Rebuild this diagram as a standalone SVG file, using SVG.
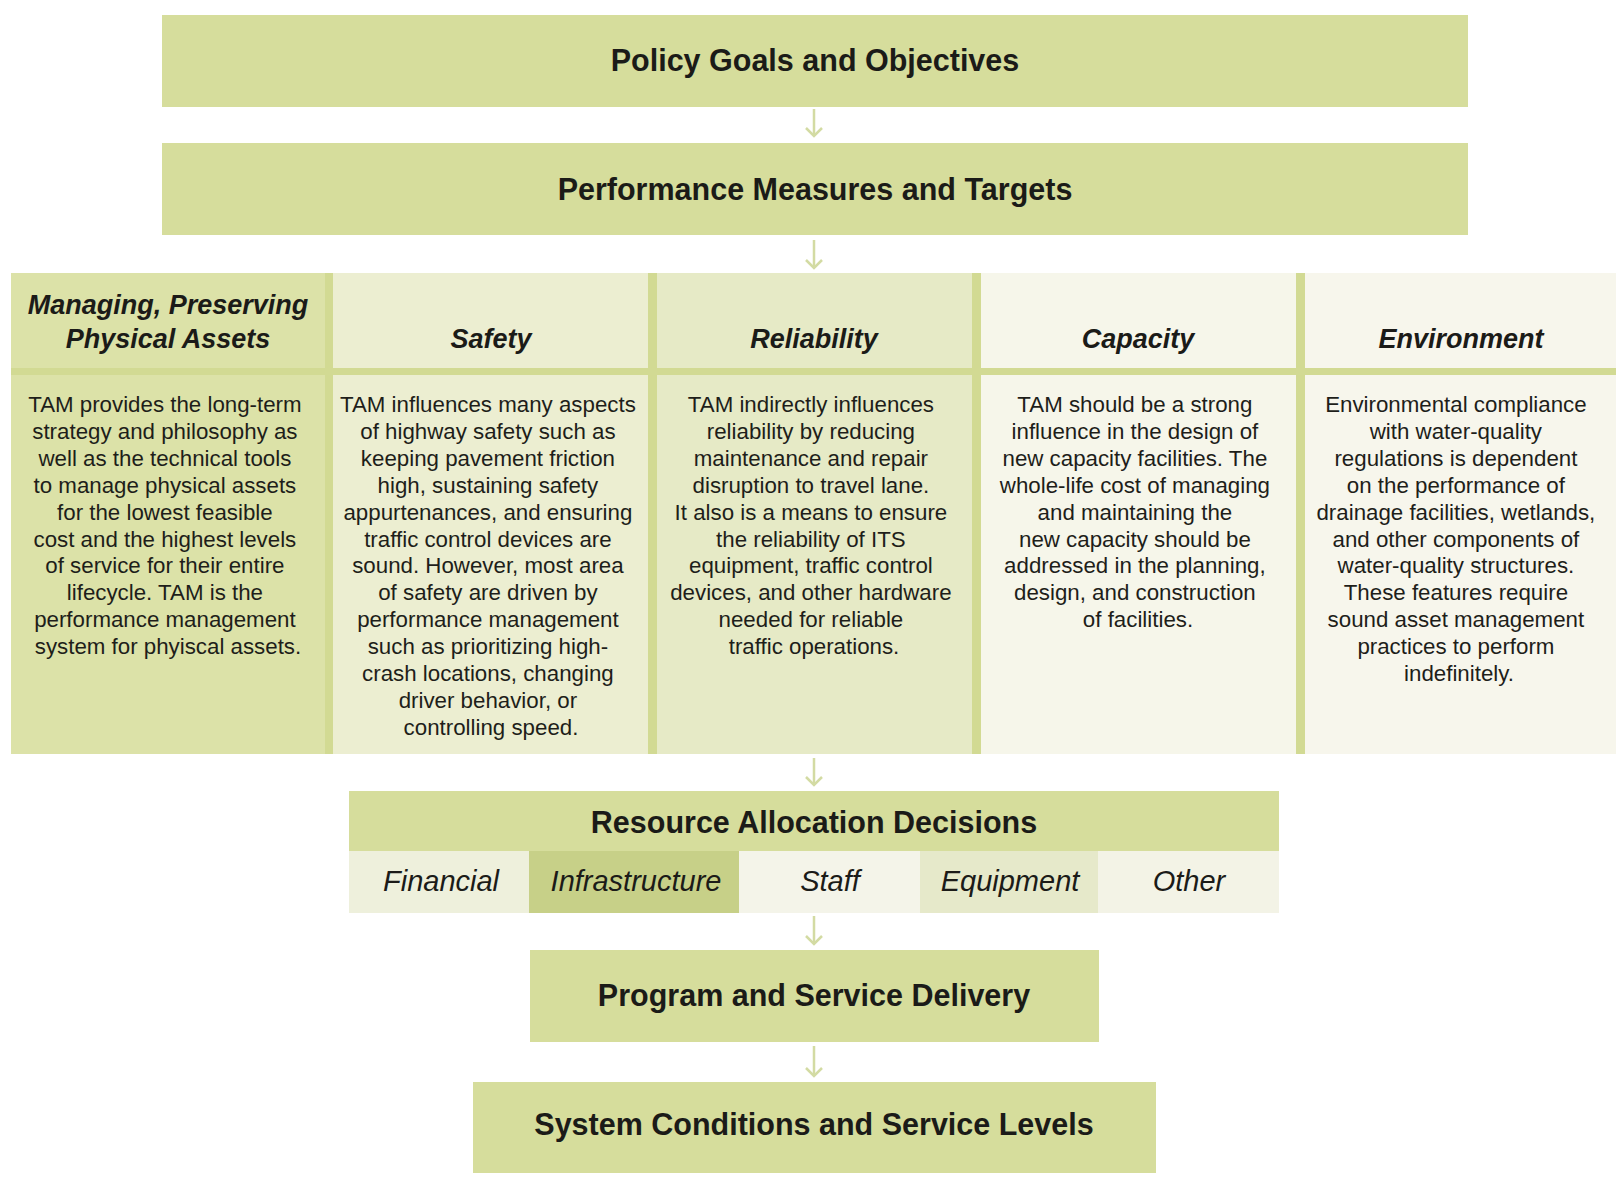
<svg xmlns="http://www.w3.org/2000/svg" width="1616" height="1177" viewBox="0 0 1616 1177">
<defs>
<style>
.box{fill:#d6dd9c}
.title{font-family:"Liberation Sans",Arial,sans-serif;font-weight:bold;font-size:30.5px;fill:#1b1b18;text-anchor:middle}
.head{font-family:"Liberation Sans",Arial,sans-serif;font-weight:bold;font-style:italic;font-size:27px;fill:#1b1b18;text-anchor:middle}
.body{font-family:"Liberation Sans",Arial,sans-serif;font-size:22.3px;fill:#1e1e1a;text-anchor:middle}
.sub{font-family:"Liberation Sans",Arial,sans-serif;font-style:italic;font-size:29px;fill:#1b1b18;text-anchor:middle}
.sep{fill:#d2da93}
.arrow{stroke:#d3dba3;stroke-width:2.5;fill:none}
</style>
<marker id="ah" markerWidth="12" markerHeight="18" refX="10" refY="9" orient="auto" markerUnits="userSpaceOnUse" viewBox="0 0 12 18">
<path d="M2,1 L10,9 L2,17" fill="none" stroke="#d3dba3" stroke-width="2.5"/>
</marker>
</defs>
<rect x="0" y="0" width="1616" height="1177" fill="#ffffff"/>

<g id="connectors">
<line class="arrow" x1="814" y1="109" x2="814" y2="136" marker-end="url(#ah)"/>
<line class="arrow" x1="814" y1="240" x2="814" y2="268" marker-end="url(#ah)"/>
<line class="arrow" x1="814" y1="758" x2="814" y2="785" marker-end="url(#ah)"/>
<line class="arrow" x1="814" y1="916" x2="814" y2="944" marker-end="url(#ah)"/>
<line class="arrow" x1="814" y1="1046" x2="814" y2="1076" marker-end="url(#ah)"/>
</g>

<g id="policy">
<rect class="box" x="162" y="15" width="1306" height="92"/>
<text class="title" x="815" y="71">Policy Goals and Objectives</text>
</g>

<g id="performance">
<rect class="box" x="162" y="143" width="1306" height="92"/>
<text class="title" x="815" y="200">Performance Measures and Targets</text>
</g>

<g id="table-bg">
<rect x="11" y="273" width="318" height="481" fill="#dce2a8"/>
<rect x="329" y="273" width="323" height="481" fill="#eceed1"/>
<rect x="652" y="273" width="324" height="481" fill="#e6eac6"/>
<rect x="976" y="273" width="324" height="481" fill="#f6f6ea"/>
<rect x="1300" y="273" width="316" height="481" fill="#f7f6ec"/>
<rect class="sep" x="11" y="368" width="1605" height="7"/>
<rect class="sep" x="325" y="273" width="8" height="481"/>
<rect class="sep" x="648" y="273" width="9" height="481"/>
<rect class="sep" x="972" y="273" width="9" height="481"/>
<rect class="sep" x="1296" y="273" width="9" height="481"/>
</g>

<g id="col-assets">
<text class="head" x="168" y="314">Managing, Preserving</text>
<text class="head" x="168" y="348">Physical Assets</text>
<text class="body" x="168" y="412">
<tspan x="168">TAM provides the long-term</tspan>
<tspan x="168" dy="26.9">strategy and philosophy as</tspan>
<tspan x="168" dy="26.9">well as the technical tools</tspan>
<tspan x="168" dy="26.9">to manage physical assets</tspan>
<tspan x="168" dy="26.9">for the lowest feasible</tspan>
<tspan x="168" dy="26.9">cost and the highest levels</tspan>
<tspan x="168" dy="26.9">of service for their entire</tspan>
<tspan x="168" dy="26.9">lifecycle. TAM is the</tspan>
<tspan x="168" dy="26.9">performance management</tspan>
<tspan x="168" dy="26.9">system for phyiscal assets.</tspan>
</text>
</g>

<g id="col-safety">
<text class="head" x="491" y="348">Safety</text>
<text class="body" x="491" y="412">
<tspan x="491">TAM influences many aspects</tspan>
<tspan x="491" dy="26.9">of highway safety such as</tspan>
<tspan x="491" dy="26.9">keeping pavement friction</tspan>
<tspan x="491" dy="26.9">high, sustaining safety</tspan>
<tspan x="491" dy="26.9">appurtenances, and ensuring</tspan>
<tspan x="491" dy="26.9">traffic control devices are</tspan>
<tspan x="491" dy="26.9">sound. However, most area</tspan>
<tspan x="491" dy="26.9">of safety are driven by</tspan>
<tspan x="491" dy="26.9">performance management</tspan>
<tspan x="491" dy="26.9">such as prioritizing high-</tspan>
<tspan x="491" dy="26.9">crash locations, changing</tspan>
<tspan x="491" dy="26.9">driver behavior, or</tspan>
<tspan x="491" dy="26.9">controlling speed.</tspan>
</text>
</g>

<g id="col-reliability">
<text class="head" x="814" y="348">Reliability</text>
<text class="body" x="814" y="412">
<tspan x="814">TAM indirectly influences</tspan>
<tspan x="814" dy="26.9">reliability by reducing</tspan>
<tspan x="814" dy="26.9">maintenance and repair</tspan>
<tspan x="814" dy="26.9">disruption to travel lane.</tspan>
<tspan x="814" dy="26.9">It also is a means to ensure</tspan>
<tspan x="814" dy="26.9">the reliability of ITS</tspan>
<tspan x="814" dy="26.9">equipment, traffic control</tspan>
<tspan x="814" dy="26.9">devices, and other hardware</tspan>
<tspan x="814" dy="26.9">needed for reliable</tspan>
<tspan x="814" dy="26.9">traffic operations.</tspan>
</text>
</g>

<g id="col-capacity">
<text class="head" x="1138" y="348">Capacity</text>
<text class="body" x="1138" y="412">
<tspan x="1138">TAM should be a strong</tspan>
<tspan x="1138" dy="26.9">influence in the design of</tspan>
<tspan x="1138" dy="26.9">new capacity facilities. The</tspan>
<tspan x="1138" dy="26.9">whole-life cost of managing</tspan>
<tspan x="1138" dy="26.9">and maintaining the</tspan>
<tspan x="1138" dy="26.9">new capacity should be</tspan>
<tspan x="1138" dy="26.9">addressed in the planning,</tspan>
<tspan x="1138" dy="26.9">design, and construction</tspan>
<tspan x="1138" dy="26.9">of facilities.</tspan>
</text>
</g>

<g id="col-environment">
<text class="head" x="1461" y="348">Environment</text>
<text class="body" x="1459" y="412">
<tspan x="1459">Environmental compliance</tspan>
<tspan x="1459" dy="26.9">with water-quality</tspan>
<tspan x="1459" dy="26.9">regulations is dependent</tspan>
<tspan x="1459" dy="26.9">on the performance of</tspan>
<tspan x="1459" dy="26.9">drainage facilities, wetlands,</tspan>
<tspan x="1459" dy="26.9">and other components of</tspan>
<tspan x="1459" dy="26.9">water-quality structures.</tspan>
<tspan x="1459" dy="26.9">These features require</tspan>
<tspan x="1459" dy="26.9">sound asset management</tspan>
<tspan x="1459" dy="26.9">practices to perform</tspan>
<tspan x="1459" dy="26.9">indefinitely.</tspan>
</text>
</g>

<g id="resource">
<rect class="box" x="349" y="791" width="930" height="60"/>
<text class="title" x="814" y="833">Resource Allocation Decisions</text>
<rect x="349" y="851" width="180" height="62" fill="#eef0dc"/>
<rect x="529" y="851" width="210" height="62" fill="#c7d088"/>
<rect x="739" y="851" width="181" height="62" fill="#f4f4e9"/>
<rect x="920" y="851" width="178" height="62" fill="#e6e9ca"/>
<rect x="1098" y="851" width="181" height="62" fill="#f3f3e6"/>
<text class="sub" x="441" y="891">Financial</text>
<text class="sub" x="636" y="891">Infrastructure</text>
<text class="sub" x="830" y="891">Staff</text>
<text class="sub" x="1010" y="891">Equipment</text>
<text class="sub" x="1189" y="891">Other</text>
</g>

<g id="program">
<rect class="box" x="530" y="950" width="569" height="92"/>
<text class="title" x="814" y="1006">Program and Service Delivery</text>
</g>

<g id="system">
<rect class="box" x="473" y="1082" width="683" height="91"/>
<text class="title" x="814" y="1135">System Conditions and Service Levels</text>
</g>
</svg>
